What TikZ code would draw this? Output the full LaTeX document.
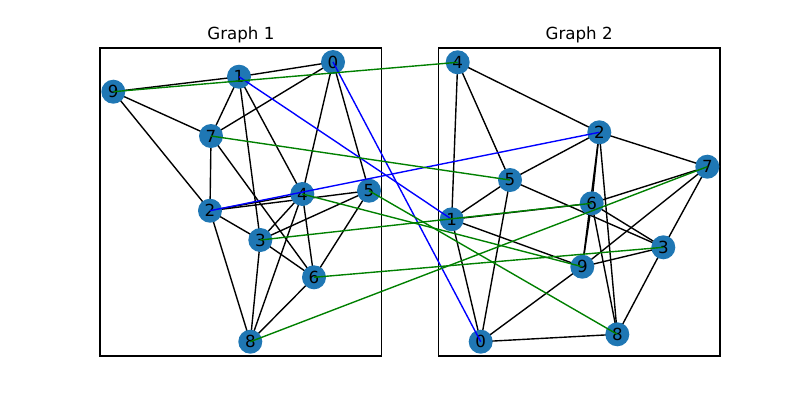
\documentclass[tikz,border=0pt]{standalone}
\usepackage{fontspec}
\setmainfont{DejaVu Sans}
\usetikzlibrary{backgrounds}
\definecolor{nodeblue}{HTML}{1F77B4}
\definecolor{mgreen}{HTML}{008000}
\definecolor{mblue}{HTML}{0000FF}
\begin{document}
\begin{tikzpicture}[x=1pt,y=-1pt,
  lbl/.style={font=\fontsize{16.67}{20}\selectfont, inner sep=0pt},
  gnode/.style={circle, fill=nodeblue, minimum size=24pt, inner sep=0pt, font=\fontsize{16.67}{20}\selectfont},
  gedge/.style={line width=1.39pt, black},
  same/.style={line width=1.39pt, mblue},
  other/.style={line width=1.39pt, mgreen},
  frame/.style={line width=1.1pt, black}]
\useasboundingbox (0,0) rectangle (800,400);
\draw[frame] (100,48) rectangle (381.8,356);
\draw[frame] (438.2,48) rectangle (720,356);
\node[lbl, anchor=base] (t1) at (240.9,39.7) {Graph 1};
\node[lbl, anchor=base] (t2) at (579.1,39.7) {Graph 2};
% Graph 1 nodes
\node[gnode] (a0) at (333,62) {0};
\node[gnode] (a1) at (239,76.7) {1};
\node[gnode] (a9) at (113.3,91.7) {9};
\node[gnode] (a7) at (211,136) {7};
\node[gnode] (a4) at (302.3,194) {4};
\node[gnode] (a5) at (369,190.7) {5};
\node[gnode] (a2) at (210,210.7) {2};
\node[gnode] (a3) at (260.3,240) {3};
\node[gnode] (a6) at (314,277.3) {6};
\node[gnode] (a8) at (250.3,341.7) {8};
% Graph 2 nodes
\node[gnode] (b4) at (457.7,62.3) {4};
\node[gnode] (b2) at (599.3,132.3) {2};
\node[gnode] (b7) at (707.3,166.7) {7};
\node[gnode] (b5) at (510,180) {5};
\node[gnode] (b6) at (591.7,203.3) {6};
\node[gnode] (b1) at (451.7,219.3) {1};
\node[gnode] (b3) at (663.3,247.3) {3};
\node[gnode] (b9) at (582.3,266.7) {9};
\node[gnode] (b8) at (617.3,334.3) {8};
\node[gnode] (b0) at (480.7,341.7) {0};
\begin{pgfonlayer}{background}
\foreach \u/\v in {9/1,1/0,9/7,9/2,1/7,1/3,1/4,0/7,0/4,0/5,7/2,7/6,2/4,2/5,2/3,2/8,3/4,3/5,3/6,3/8,4/6,4/8,5/6,6/8}
  \draw[gedge] (a\u.center) -- (a\v.center);
\foreach \u/\v in {4/2,4/5,4/1,2/5,2/7,2/6,2/9,2/8,7/6,7/9,7/3,5/1,5/0,5/3,6/3,1/6,1/9,1/0,9/3,9/0,6/9,6/8,3/8,0/8}
  \draw[gedge] (b\u.center) -- (b\v.center);
\end{pgfonlayer}
% correspondences
\draw[same] (a1.center) -- (b1.center);
\draw[same] (a0.center) -- (b0.center);
\draw[same] (a2.center) -- (b2.center);
\foreach \u/\v in {9/4,7/5,4/9,5/8,3/6,6/3,8/7}
  \draw[other] (a\u.center) -- (b\v.center);
\end{tikzpicture}
\end{document}
